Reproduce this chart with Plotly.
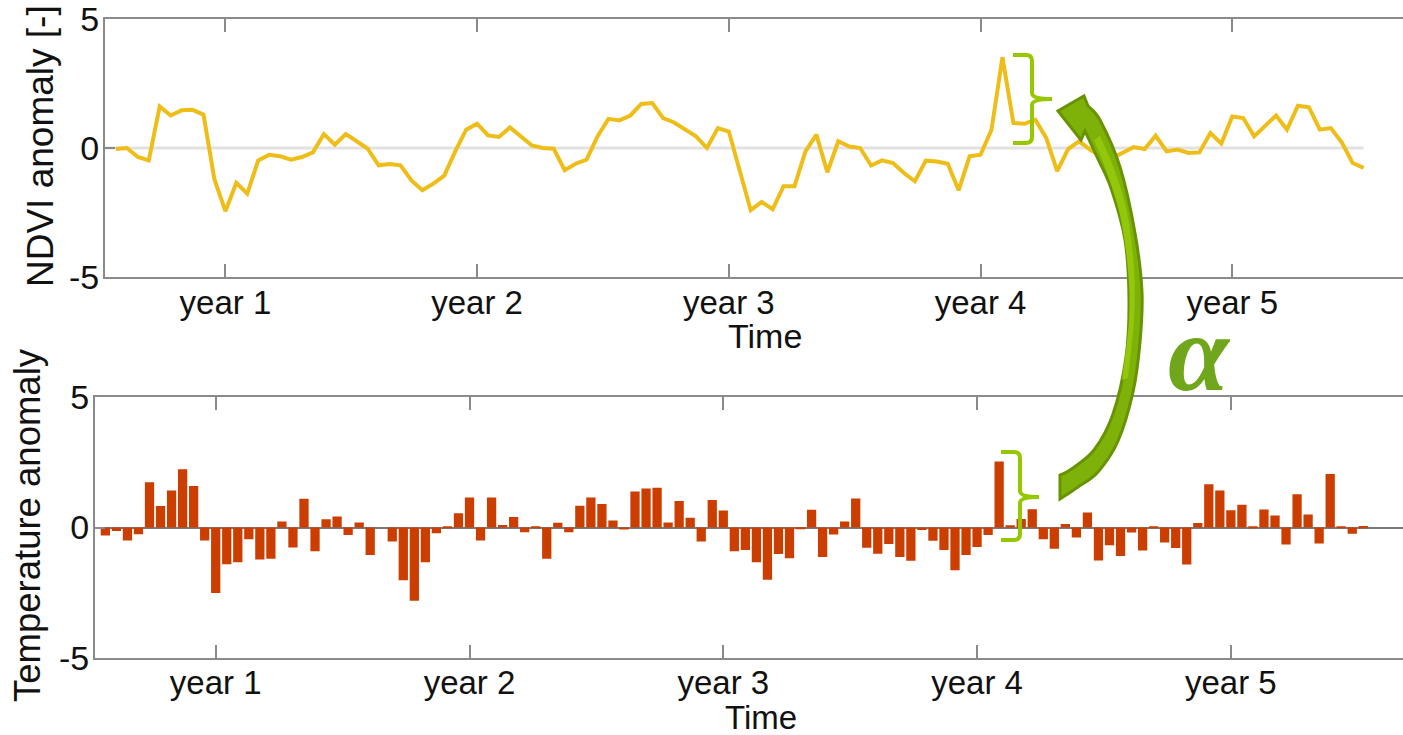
import plotly.graph_objects as go

W, H = 1403, 735

years = ["year 1", "year 2", "year 3", "year 4", "year 5"]
year_idx = [10, 33, 56, 79, 102]
y_ticks = [-5, 0, 5]
y_ticktext = ["-5", "0", "5"]

ndvi = [-0.04, 0.0, -0.35, -0.48, 1.61, 1.26, 1.46, 1.48, 1.29, -1.22,
        -2.45, -1.35, -1.77, -0.48, -0.26, -0.32, -0.45, -0.35, -0.17, 0.54,
        0.13, 0.54, 0.26, -0.03, -0.67, -0.62, -0.67, -1.26, -1.64, -1.38,
        -1.07, -0.13, 0.71, 0.94, 0.49, 0.43, 0.80, 0.45, 0.10, 0.0,
        -0.03, -0.86, -0.61, -0.45, 0.45, 1.13, 1.07, 1.26, 1.71, 1.74,
        1.16, 0.99, 0.71, 0.45, 0.0, 0.77, 0.64, -0.88, -2.41, -2.09,
        -2.38, -1.48, -1.48, -0.13, 0.52, -0.94, 0.26, 0.06, 0.0, -0.68,
        -0.48, -0.58, -0.97, -1.29, -0.49, -0.52, -0.61, -1.64, -0.32, -0.26,
        0.71, 3.52, 0.97, 0.94, 1.10, 0.39, -0.90, -0.04, 0.26, -0.06,
        -0.32, -0.40, -0.19, 0.04, -0.04, 0.48, -0.13, -0.06, -0.19, -0.17,
        0.58, 0.17, 1.22, 1.16, 0.45, 0.86, 1.26, 0.71, 1.64, 1.58,
        0.71, 0.77, 0.22, -0.58, -0.77]

temp = [-0.31, -0.13, -0.50, -0.26, 1.74, 0.83, 1.42, 2.24, 1.59, -0.50,
        -2.52, -1.41, -1.33, -0.45, -1.23, -1.20, 0.23, -0.77, 1.10, -0.91,
        0.32, 0.42, -0.29, 0.19, -1.06, 0.0, -0.54, -2.03, -2.81, -1.33,
        -0.22, 0.03, 0.55, 1.15, -0.50, 1.15, 0.10, 0.40, -0.18, 0.05,
        -1.20, 0.18, -0.18, 0.84, 1.15, 0.90, 0.27, -0.08, 1.38, 1.50,
        1.53, 0.19, 1.02, 0.37, -0.54, 1.06, 0.65, -0.91, -0.86, -1.33,
        -2.01, -1.02, -1.18, -0.06, 0.68, -1.13, -0.27, 0.23, 1.11, -0.78,
        -1.01, -0.63, -1.13, -1.28, -0.10, -0.51, -0.86, -1.64, -1.06, -0.75,
        -0.29, 2.53, 0.09, 0.33, 0.70, -0.45, -0.82, 0.13, -0.38, 0.58,
        -1.27, -0.68, -1.09, -0.19, -0.88, 0.04, -0.58, -0.79, -1.42, 0.17,
        1.66, 1.42, 0.66, 0.87, 0.03, 0.69, 0.46, -0.65, 1.28, 0.50,
        -0.61, 2.05, 0.03, -0.24, 0.06]

t = list(range(len(ndvi)))

GRAY = "#8a8a8a"
FONT = "Liberation Sans"
LINE_COL = "#EFBD18"
BAR_COL = "#CC3D00"
BRACE_COL = "#96C800"
ARROW_FILL = "#7FB208"
ARROW_LIGHT = "#93C70C"
ARROW_LINE = "#679300"
ALPHA_COL = "#70A61C"


def fx(x):
    return x / W


def fy(y):
    return 1 - y / H


def P(p):
    return f"{fx(p[0]):.5f},{fy(p[1]):.5f}"


def smooth(points):
    segs = []
    n = len(points)
    for i in range(n - 1):
        p0 = points[i - 1] if i > 0 else points[i]
        p1 = points[i]
        p2 = points[i + 1]
        p3 = points[i + 2] if i + 2 < n else points[i + 1]
        c1 = (p1[0] + (p2[0] - p0[0]) / 6, p1[1] + (p2[1] - p0[1]) / 6)
        c2 = (p2[0] - (p3[0] - p1[0]) / 6, p2[1] - (p3[1] - p1[1]) / 6)
        segs.append(f"C {P(c1)} {P(c2)} {P(p2)}")
    return " ".join(segs)


def brace(x0, xv, xt, y0, ym, y1, r=6):
    return (f"M {P((x0, y0))} L {P((xv - r, y0))} Q {P((xv, y0))} {P((xv, y0 + r))} "
            f"L {P((xv, ym - r))} Q {P((xv, ym))} {P((xt, ym))} "
            f"M {P((xt, ym))} Q {P((xv, ym))} {P((xv, ym + r))} "
            f"L {P((xv, y1 - r))} Q {P((xv, y1))} {P((xv - r, y1))} L {P((x0, y1))}")


fig = go.Figure()
fig.add_trace(go.Scatter(x=t, y=ndvi, mode="lines",
                         line=dict(color=LINE_COL, width=4),
                         xaxis="x", yaxis="y", showlegend=False, hoverinfo="skip"))
fig.add_trace(go.Bar(x=t, y=temp, width=0.84,
                     marker=dict(color=BAR_COL, line=dict(width=0)),
                     xaxis="x2", yaxis="y2", showlegend=False, hoverinfo="skip"))

tickfont = dict(family=FONT, size=33, color="#111111")
xcommon = dict(tickvals=year_idx, ticktext=years, ticks="inside", ticklen=13,
               tickwidth=2, tickcolor=GRAY, showline=True, linecolor=GRAY,
               linewidth=2, mirror="ticks", showgrid=False, zeroline=False,
               tickfont=tickfont, automargin=False, ticklabelstandoff=-5,
               ticklabeloverflow="allow")
ycommon = dict(range=[-5, 5], tickvals=y_ticks, ticktext=y_ticktext, ticks="inside",
               ticklen=10, tickwidth=2, tickcolor=GRAY, showline=True,
               linecolor=GRAY, linewidth=2, showgrid=False,
               tickfont=dict(family=FONT, size=34, color="#111111"),
               automargin=False, ticklabelstandoff=-3, ticklabeloverflow="allow")

fig.update_layout(
    width=W, height=H,
    margin=dict(l=0, r=0, t=0, b=0),
    paper_bgcolor="white", plot_bgcolor="white",
    xaxis=dict(domain=[fx(105), 1], range=[-1, 117.6], anchor="y", **xcommon),
    yaxis=dict(domain=[fy(277), fy(19)], anchor="x", zeroline=False, **ycommon),
    xaxis2=dict(domain=[fx(95), 1], range=[-0.94, 117.6], anchor="y2", **xcommon),
    yaxis2=dict(domain=[fy(657.7), fy(397.3)], anchor="x2", zeroline=True,
                zerolinecolor="#7a7a7a", zerolinewidth=1.5, **ycommon),
    bargap=0.16,
)

# light zero reference line in the NDVI panel
fig.add_shape(type="line", xref="x", yref="y", x0=-1, x1=len(ndvi) - 1, y0=0, y1=0,
              line=dict(color="#E2E2E2", width=3), layer="below")

# braces
fig.add_shape(type="path", xref="paper", yref="paper",
              path=brace(1013, 1032, 1052, 55, 99, 143),
              line=dict(color=BRACE_COL, width=4))
fig.add_shape(type="path", xref="paper", yref="paper",
              path=brace(1001, 1020, 1039, 452, 497, 540),
              line=dict(color=BRACE_COL, width=4))

# curved arrow
inner = [(1060, 475), (1070, 470), (1094, 450), (1113, 414), (1126, 357), (1129, 300),
         (1125, 240), (1111, 188), (1097, 157), (1085, 131)]
head = [(1081, 140), (1058, 111), (1084, 96), (1088, 106)]
outer = [(1088, 106), (1100, 120), (1120, 167), (1135, 233), (1142, 292), (1140, 342),
         (1133, 392), (1118, 441), (1098, 472), (1078, 487), (1060, 499)]
arrow_path = (f"M {P((1060, 499))} L {P(inner[0])} {smooth(inner)} "
              + " ".join(f"L {P(p)}" for p in head)
              + f" {smooth(outer)} Z")
fig.add_shape(type="path", xref="paper", yref="paper", path=arrow_path,
              fillcolor=ARROW_FILL, line=dict(color=ARROW_LINE, width=3))

# lighter highlight along the inner side of the arrow body
hl_in = [(1094, 140), (1106, 170), (1120, 215), (1128, 270), (1129, 320), (1122, 380)]
hl_out = [(1128, 378), (1134, 320), (1134, 268), (1127, 212), (1113, 166), (1100, 136)]
hl_path = f"M {P(hl_in[0])} {smooth(hl_in)} L {P(hl_out[0])} {smooth(hl_out)} Z"
fig.add_shape(type="path", xref="paper", yref="paper", path=hl_path,
              fillcolor=ARROW_LIGHT, line=dict(width=0))

annotations = [
    dict(text="NDVI anomaly [-]", x=fx(41), y=fy(146), textangle=-90,
         font=dict(family=FONT, size=37, color="#111111")),
    dict(text="Temperature anomaly", x=fx(27), y=fy(525), textangle=-90,
         font=dict(family=FONT, size=36.5, color="#111111")),
    dict(text="Time", x=fx(765), y=fy(336),
         font=dict(family=FONT, size=34, color="#111111")),
    dict(text="Time", x=fx(761), y=fy(717),
         font=dict(family=FONT, size=33, color="#111111")),
    dict(text="<b><i>α</i></b>", x=fx(1199), y=fy(353),
         font=dict(family="Liberation Serif", size=110, color=ALPHA_COL)),
]
for a in annotations:
    a.update(xref="paper", yref="paper", showarrow=False, xanchor="center", yanchor="middle")
fig.update_layout(annotations=annotations)

fig.write_html("out.html")
